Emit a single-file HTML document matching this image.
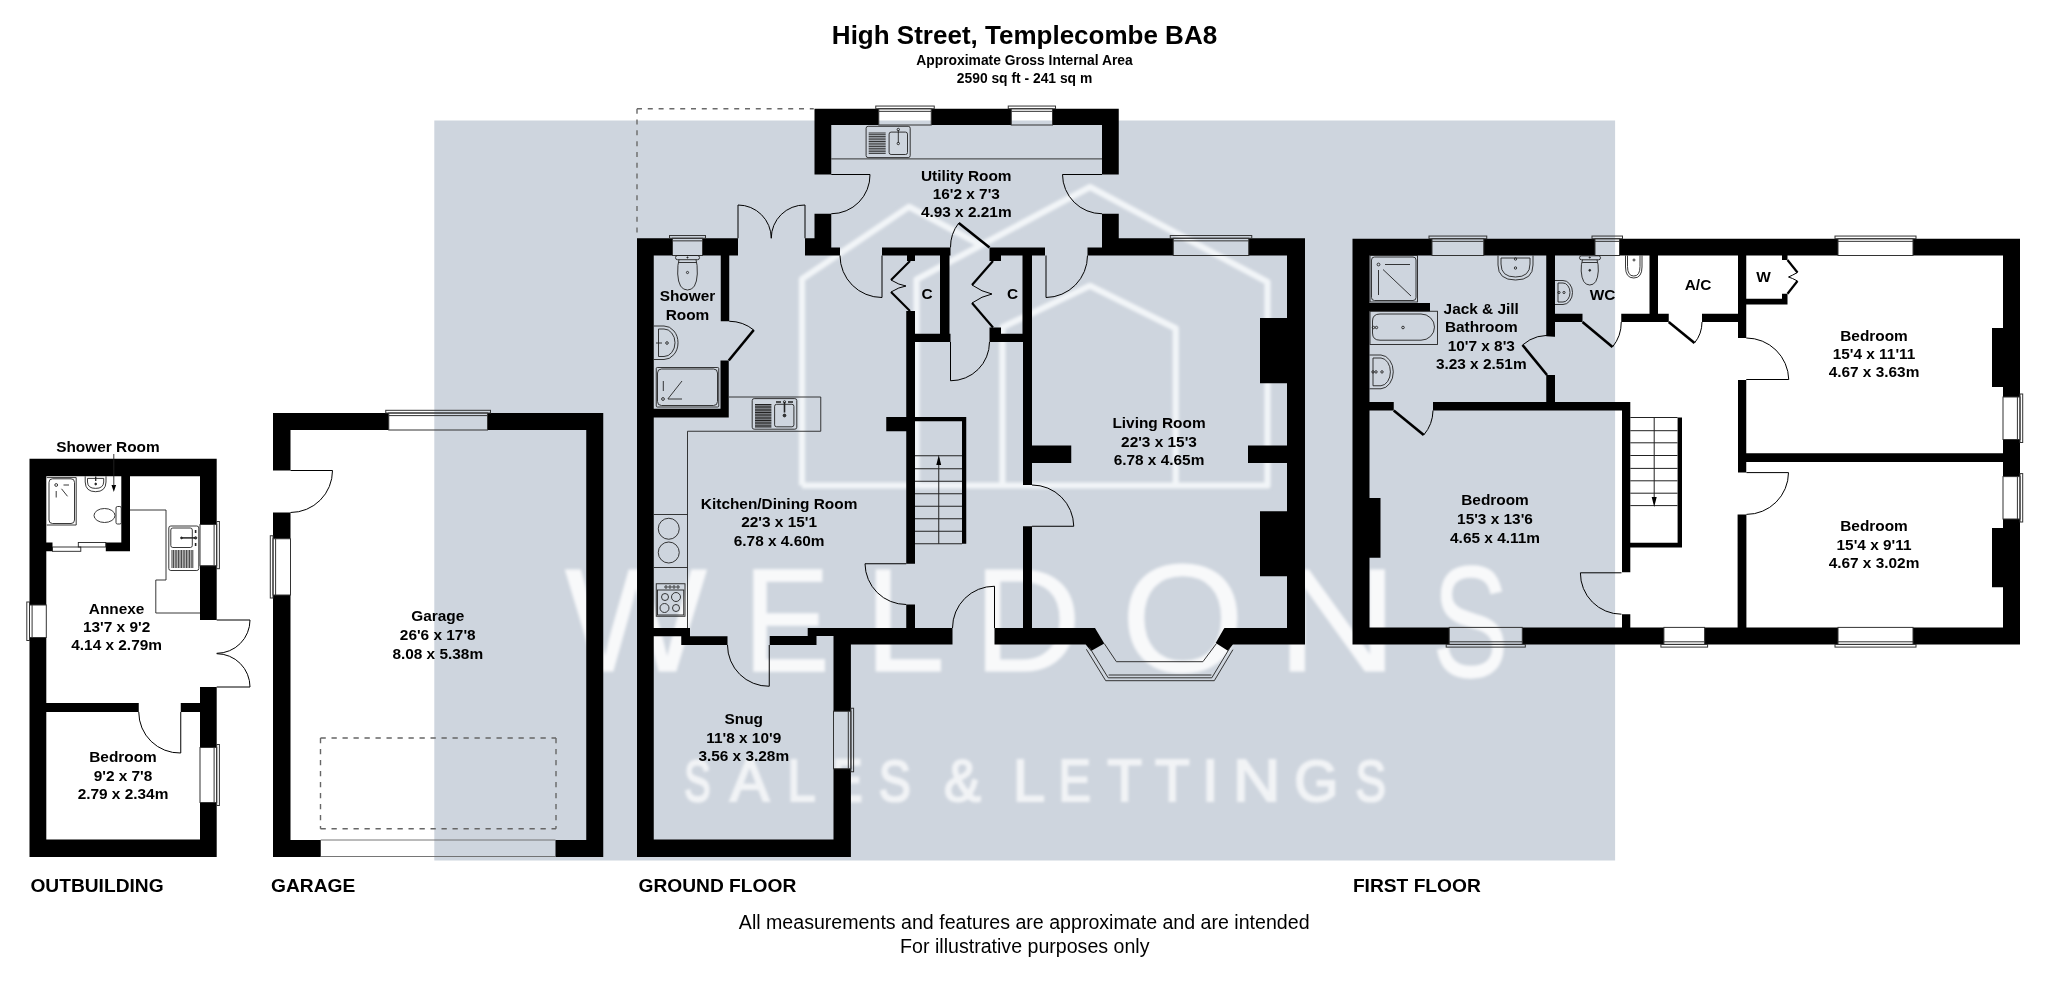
<!DOCTYPE html><html><head><meta charset="utf-8"><style>html,body{margin:0;padding:0;background:#fff;}svg{display:block;will-change:transform;}text{font-family:"Liberation Sans",sans-serif;fill:#000;}</style></head><body>
<svg width="2048" height="981" viewBox="0 0 2048 981">
<defs><filter id="bl" x="-5%" y="-5%" width="110%" height="110%"><feGaussianBlur stdDeviation="2.3"/></filter><filter id="wmb" x="-5%" y="-5%" width="110%" height="110%"><feGaussianBlur stdDeviation="1.5"/></filter><filter id="wms" x="-5%" y="-5%" width="110%" height="110%"><feGaussianBlur stdDeviation="1.5"/></filter><filter id="bl2" x="-5%" y="-5%" width="110%" height="110%"><feGaussianBlur stdDeviation="1.5"/></filter></defs>
<rect x="0" y="0" width="2048" height="981" fill="#fff"/>
<rect x="434.3" y="120.5" width="1180.8" height="740" fill="#ced5de"/>
<g filter="url(#wmb)" opacity="0.86"><text transform="translate(565.05,671.35) scale(0.15016,0.14738)" font-size="1000" style="fill:#ffffff;stroke:#ffffff;stroke-width:8.1;stroke-linejoin:miter">W</text><text transform="translate(743.15,671.05) scale(0.12989,0.14738)" font-size="1000" style="fill:#ffffff;stroke:#ffffff;stroke-width:8.7;stroke-linejoin:miter">E</text><text transform="translate(864.42,671.05) scale(0.14490,0.14738)" font-size="1000" style="fill:#ffffff;stroke:#ffffff;stroke-width:8.2;stroke-linejoin:miter">L</text><text transform="translate(973.56,670.65) scale(0.14932,0.14608)" font-size="1000" style="fill:#ffffff;stroke:#ffffff;stroke-width:8.1;stroke-linejoin:miter">D</text><text transform="translate(1121.17,671.91) scale(0.15813,0.15367)" font-size="1000" style="fill:#ffffff;stroke:#ffffff;stroke-width:7.7;stroke-linejoin:miter">O</text><text transform="translate(1276.53,671.05) scale(0.16798,0.14738)" font-size="1000" style="fill:#ffffff;stroke:#ffffff;stroke-width:7.6;stroke-linejoin:miter">N</text><text transform="translate(1432.57,675.67) scale(0.11374,0.15692)" font-size="1000" style="fill:#ffffff;stroke:#ffffff;stroke-width:8.9;stroke-linejoin:miter">S</text></g>
<g filter="url(#wms)" opacity="0.72"><text transform="translate(684.18,800.86) scale(0.03948,0.05791)" font-size="1000" style="fill:#ffffff;stroke:#ffffff;stroke-width:41.1;stroke-linejoin:miter">S</text><text transform="translate(729.88,800.94) scale(0.05882,0.05858)" font-size="1000" style="fill:#ffffff;stroke:#ffffff;stroke-width:34.1;stroke-linejoin:miter">A</text><text transform="translate(787.32,800.94) scale(0.05102,0.05858)" font-size="1000" style="fill:#ffffff;stroke:#ffffff;stroke-width:36.5;stroke-linejoin:miter">L</text><text transform="translate(832.28,800.94) scale(0.04539,0.05858)" font-size="1000" style="fill:#ffffff;stroke:#ffffff;stroke-width:38.5;stroke-linejoin:miter">E</text><text transform="translate(878.78,800.86) scale(0.04817,0.05791)" font-size="1000" style="fill:#ffffff;stroke:#ffffff;stroke-width:37.7;stroke-linejoin:miter">S</text><text transform="translate(944.07,800.86) scale(0.05519,0.05840)" font-size="1000" style="fill:#ffffff;stroke:#ffffff;stroke-width:35.2;stroke-linejoin:miter">&amp;</text><text transform="translate(1012.88,800.94) scale(0.05760,0.05858)" font-size="1000" style="fill:#ffffff;stroke:#ffffff;stroke-width:34.4;stroke-linejoin:miter">L</text><text transform="translate(1058.52,800.94) scale(0.04852,0.05858)" font-size="1000" style="fill:#ffffff;stroke:#ffffff;stroke-width:37.3;stroke-linejoin:miter">E</text><text transform="translate(1107.15,800.94) scale(0.05689,0.05858)" font-size="1000" style="fill:#ffffff;stroke:#ffffff;stroke-width:34.6;stroke-linejoin:miter">T</text><text transform="translate(1155.05,800.94) scale(0.05671,0.05858)" font-size="1000" style="fill:#ffffff;stroke:#ffffff;stroke-width:34.7;stroke-linejoin:miter">T</text><text transform="translate(1202.12,800.94) scale(0.05957,0.05858)" font-size="1000" style="fill:#ffffff;stroke:#ffffff;stroke-width:33.9;stroke-linejoin:miter">I</text><text transform="translate(1232.87,800.94) scale(0.06619,0.05858)" font-size="1000" style="fill:#ffffff;stroke:#ffffff;stroke-width:32.1;stroke-linejoin:miter">N</text><text transform="translate(1294.17,800.86) scale(0.05666,0.05791)" font-size="1000" style="fill:#ffffff;stroke:#ffffff;stroke-width:34.9;stroke-linejoin:miter">G</text><text transform="translate(1355.40,800.86) scale(0.04557,0.05791)" font-size="1000" style="fill:#ffffff;stroke:#ffffff;stroke-width:38.7;stroke-linejoin:miter">S</text></g>
<g filter="url(#bl2)" fill="none" stroke="#f2f5f8" stroke-width="6.2" stroke-linejoin="round" stroke-linecap="butt"><path d="M802,485.5V279L909,206.8L981.9,245.4"/><path d="M916.5,485.5V279.5L1090,187L1267.5,282V485.5H802"/><path d="M1002.4,485.5V327.3L1089.9,285.8L1175.7,328.4V485.5"/></g>
<path d="M29.50,458.70H216.70V476.30H29.50ZM29.50,458.70H46.30V605.00H29.50ZM29.50,637.50H46.30V857.00H29.50ZM29.50,839.50H216.70V857.00H29.50ZM200.00,458.70H216.70V524.50H200.00ZM200.00,565.70H216.70V620.00H200.00ZM200.00,687.00H216.70V747.50H200.00ZM200.00,802.50H216.70V857.00H200.00ZM121.30,476.30H130.00V551.30H121.30ZM105.80,542.50H130.00V551.30H105.80ZM46.30,542.50H52.50V551.30H46.30ZM46.30,703.00H138.75V712.00H46.30ZM180.75,703.00H200.00V712.00H180.75ZM273.00,413.00H388.75V430.00H273.00ZM487.50,413.00H603.25V430.00H487.50ZM273.00,413.00H290.50V470.50H273.00ZM273.00,512.50H290.50V538.75H273.00ZM273.00,595.00H290.50V857.00H273.00ZM586.25,413.00H603.25V857.00H586.25ZM273.00,840.00H320.75V857.00H273.00ZM555.50,840.00H603.25V857.00H555.50ZM637.00,238.25H653.75V857.00H637.00ZM637.00,238.25H672.50V255.50H637.00ZM702.50,238.25H738.00V255.50H702.50ZM720.75,255.50H729.25V321.25H720.75ZM720.50,360.50H728.75V417.50H720.50ZM653.75,408.75H728.75V417.50H653.75ZM805.00,238.25H831.25V247.50H805.00ZM805.00,247.50H840.00V255.50H805.00ZM814.50,108.75H831.25V174.50H814.50ZM814.50,213.75H831.25V247.50H814.50ZM814.50,108.75H878.75V125.00H814.50ZM931.25,108.75H1011.25V125.00H931.25ZM1052.50,108.75H1118.75V125.00H1052.50ZM1102.00,108.75H1118.75V174.50H1102.00ZM1102.00,213.75H1118.75V255.50H1102.00ZM882.00,247.50H950.50V255.50H882.00ZM989.50,247.50H1045.00V255.50H989.50ZM1087.50,247.50H1118.75V255.50H1087.50ZM1118.75,238.25H1173.25V255.50H1118.75ZM1248.75,238.25H1305.00V255.50H1248.75ZM1287.00,238.25H1305.00V644.50H1287.00ZM1260.00,318.00H1287.00V383.25H1260.00ZM1260.00,511.25H1287.00V576.25H1260.00ZM1248.00,445.50H1287.00V463.00H1248.00ZM1023.00,445.50H1071.25V463.00H1023.00ZM1023.00,255.50H1032.00V485.00H1023.00ZM1023.00,526.25H1032.00V644.50H1023.00ZM907.00,255.50H915.00V261.00H907.00ZM906.25,311.00H915.00V563.75H906.25ZM940.00,255.50H949.50V342.00H940.00ZM906.25,333.75H950.50V342.00H906.25ZM989.50,255.50H1001.00V261.00H989.50ZM989.50,327.50H1001.00V342.00H989.50ZM1022.50,255.50H1032.00V342.00H1022.50ZM989.50,333.75H1032.00V342.00H989.50ZM906.25,604.50H915.00V644.50H906.25ZM886.25,417.00H906.25V431.25H886.25ZM915.00,417.00H966.25V421.25H915.00ZM962.00,417.00H966.25V543.75H962.00ZM653.75,628.00H690.00V636.25H653.75ZM681.25,636.25H727.50V645.00H681.25ZM769.70,636.10H816.50V645.00H769.70ZM807.70,628.00H952.50V636.10H807.70ZM833.50,636.10H952.50V644.50H833.50ZM994.50,628.00H1095.00V644.50H994.50ZM1224.30,628.00H1305.00V644.50H1224.30ZM833.50,636.00H850.90V711.25H833.50ZM833.50,768.75H850.90V857.00H833.50ZM637.00,839.40H850.90V857.00H637.00ZM1352.50,238.75H1369.50V644.40H1352.50ZM1352.50,238.75H1432.00V255.50H1352.50ZM1483.75,238.75H1595.00V255.50H1483.75ZM1619.50,238.75H1838.00V255.50H1619.50ZM1913.00,238.75H2020.00V255.50H1913.00ZM2003.00,238.75H2020.00V397.00H2003.00ZM2003.00,439.50H2020.00V476.60H2003.00ZM2003.00,519.00H2020.00V644.40H2003.00ZM1992.00,328.00H2003.00V387.00H1992.00ZM1992.00,528.00H2003.00V587.30H1992.00ZM1352.50,627.40H1449.20V644.40H1352.50ZM1522.30,627.40H1663.90V644.40H1522.30ZM1704.60,627.40H1838.00V644.40H1704.60ZM1913.00,627.40H2020.00V644.40H1913.00ZM1369.20,498.00H1380.50V557.70H1369.20ZM1546.25,255.50H1555.00V336.25H1546.25ZM1546.25,375.00H1555.00V410.50H1546.25ZM1369.50,303.00H1430.00V311.25H1369.50ZM1369.50,402.00H1393.75V410.50H1369.50ZM1433.00,402.00H1630.30V410.50H1433.00ZM1555.00,313.75H1582.50V322.00H1555.00ZM1621.25,313.75H1668.75V322.00H1621.25ZM1649.50,255.50H1658.00V322.00H1649.50ZM1702.00,313.75H1746.25V322.00H1702.00ZM1738.00,255.50H1746.25V338.00H1738.00ZM1738.00,380.00H1746.25V472.60H1738.00ZM1737.60,514.40H1746.40V644.40H1737.60ZM1746.25,298.75H1787.50V304.50H1746.25ZM1782.00,255.50H1787.50V260.00H1782.00ZM1782.00,293.75H1787.50V304.50H1782.00ZM1746.25,453.30H2003.00V462.00H1746.25ZM1622.00,402.40H1630.30V572.20H1622.00ZM1622.00,614.30H1630.30V644.40H1622.00ZM1677.60,417.50H1682.00V547.40H1677.60ZM1630.30,542.80H1682.00V547.40H1630.30Z" fill="#000"/>
<path d="M1095,628L1104.3,643.6L1091,651L1085.7,644.6Z M1224.3,628L1232.9,644.6L1227.9,650.7L1215.7,642.9Z" fill="#000"/>
<g fill="none" stroke="#333" stroke-width="1">
<rect x="216.70" y="521.50" width="2.7" height="47.20"/><rect x="200.00" y="524.50" width="16.70" height="41.20"/><line x1="214.10" y1="524.50" x2="214.10" y2="565.70"/>
<rect x="216.70" y="744.50" width="2.7" height="61.00"/><rect x="200.00" y="747.50" width="16.70" height="55.00"/><line x1="214.10" y1="747.50" x2="214.10" y2="802.50"/>
<rect x="26.80" y="602.00" width="2.7" height="38.50"/><rect x="29.50" y="605.00" width="16.80" height="32.50"/><line x1="32.10" y1="605.00" x2="32.10" y2="637.50"/>
<rect x="385.75" y="410.30" width="104.75" height="2.7"/><rect x="388.75" y="413.00" width="98.75" height="17.00"/><line x1="388.75" y1="415.60" x2="487.50" y2="415.60"/>
<rect x="270.30" y="535.75" width="2.7" height="62.25"/><rect x="273.00" y="538.75" width="17.50" height="56.25"/><line x1="275.60" y1="538.75" x2="275.60" y2="595.00"/>
<rect x="669.50" y="235.55" width="36.00" height="2.7"/><rect x="672.50" y="238.25" width="30.00" height="17.25"/><line x1="672.50" y1="240.85" x2="702.50" y2="240.85"/>
<rect x="875.75" y="106.05" width="58.50" height="2.7"/><rect x="878.75" y="108.75" width="52.50" height="16.25"/><line x1="878.75" y1="111.35" x2="931.25" y2="111.35"/>
<rect x="1008.25" y="106.05" width="47.25" height="2.7"/><rect x="1011.25" y="108.75" width="41.25" height="16.25"/><line x1="1011.25" y1="111.35" x2="1052.50" y2="111.35"/>
<rect x="1170.25" y="235.55" width="81.50" height="2.7"/><rect x="1173.25" y="238.25" width="75.50" height="17.25"/><line x1="1173.25" y1="240.85" x2="1248.75" y2="240.85"/>
<rect x="850.90" y="708.25" width="2.7" height="63.50"/><rect x="833.50" y="711.25" width="17.40" height="57.50"/><line x1="848.30" y1="711.25" x2="848.30" y2="768.75"/>
<rect x="1429.00" y="236.05" width="57.75" height="2.7"/><rect x="1432.00" y="238.75" width="51.75" height="16.75"/><line x1="1432.00" y1="241.35" x2="1483.75" y2="241.35"/>
<rect x="1592.00" y="236.05" width="30.50" height="2.7"/><rect x="1595.00" y="238.75" width="24.50" height="16.75"/><line x1="1595.00" y1="241.35" x2="1619.50" y2="241.35"/>
<rect x="1835.00" y="236.05" width="81.00" height="2.7"/><rect x="1838.00" y="238.75" width="75.00" height="16.75"/><line x1="1838.00" y1="241.35" x2="1913.00" y2="241.35"/>
<rect x="1446.20" y="644.40" width="79.10" height="2.7"/><rect x="1449.20" y="627.40" width="73.10" height="17.00"/><line x1="1449.20" y1="641.80" x2="1522.30" y2="641.80"/>
<rect x="1660.90" y="644.40" width="46.70" height="2.7"/><rect x="1663.90" y="627.40" width="40.70" height="17.00"/><line x1="1663.90" y1="641.80" x2="1704.60" y2="641.80"/>
<rect x="1835.00" y="644.40" width="81.00" height="2.7"/><rect x="1838.00" y="627.40" width="75.00" height="17.00"/><line x1="1838.00" y1="641.80" x2="1913.00" y2="641.80"/>
<rect x="2020.00" y="394.00" width="2.7" height="48.50"/><rect x="2003.00" y="397.00" width="17.00" height="42.50"/><line x1="2017.40" y1="397.00" x2="2017.40" y2="439.50"/>
<rect x="2020.00" y="473.60" width="2.7" height="48.40"/><rect x="2003.00" y="476.60" width="17.00" height="42.40"/><line x1="2017.40" y1="476.60" x2="2017.40" y2="519.00"/>
<path d="M1086.4,649.3L1105.7,680.7H1214.3L1232.9,649.7"/><path d="M1089.5,647.5L1108.2,677.8H1211.8L1229.9,647.8"/><path d="M1104.3,643.6L1116.4,661.7H1202.9L1216.4,643.6"/><path d="M1108.6,675H1211.4"/>
</g>
<path d="M216.70,620.00L250.00,620.00A33.30,33.30 0 0 1 216.70,653.30M216.70,687.00L250.00,687.00A33.30,33.30 0 0 0 216.70,653.70M180.75,712.00L180.75,753.00A41.00,41.00 0 0 1 138.75,712.00M290.50,470.50L332.50,470.50A42.00,42.00 0 0 1 290.50,512.50M738.00,238.25L738.00,205.00A33.25,33.25 0 0 1 771.25,238.25M805.00,238.25L805.00,205.00A33.25,33.25 0 0 0 771.25,238.25M831.25,174.50L870.00,174.50A38.75,38.75 0 0 1 831.25,213.75M1102.00,174.50L1062.50,174.50A39.50,39.50 0 0 0 1102.00,213.75M882.00,255.50L882.00,297.50A42.00,42.00 0 0 1 840.00,255.50M1046.00,255.50L1046.00,297.50A42.00,42.00 0 0 0 1087.50,255.50M950.50,342.00L950.50,380.75A38.75,38.75 0 0 0 989.50,342.00M1032.00,526.25L1073.75,526.25A41.75,41.75 0 0 0 1032.00,485.00M906.25,563.75L865.00,563.75A41.25,41.25 0 0 0 906.25,604.50M994.50,628.00L994.50,586.25A41.75,41.75 0 0 0 952.50,628.00M769.25,645.00L769.25,686.25A41.25,41.25 0 0 1 727.50,645.00M1746.25,379.50L1788.75,379.50A42.50,42.50 0 0 0 1746.25,338.00M1746.40,472.60L1788.50,472.60A42.10,42.10 0 0 1 1746.40,514.40M1621.50,572.80L1580.40,572.80A41.10,41.10 0 0 0 1621.50,614.20" fill="none" stroke="#000" stroke-width="1"/>
<path d="M989.5,247.5L958.75,223" stroke="#000" stroke-width="2.6" fill="none"/>
<path d="M958.75,223A39.32,39.32 0 0 0 950.5,247.5" stroke="#000" stroke-width="1" fill="none"/>
<path d="M728.75,360.5L753.75,330" stroke="#000" stroke-width="2.6" fill="none"/>
<path d="M753.75,330A39.44,39.44 0 0 0 729.25,321.25" stroke="#000" stroke-width="1" fill="none"/>
<path d="M1547,375L1522.5,345" stroke="#000" stroke-width="2.6" fill="none"/>
<path d="M1522.5,345A38.73,38.73 0 0 1 1555,336.25" stroke="#000" stroke-width="1" fill="none"/>
<path d="M1393.75,410.5L1423.75,435" stroke="#000" stroke-width="2.6" fill="none"/>
<path d="M1423.75,435A38.73,38.73 0 0 0 1433,410.5" stroke="#000" stroke-width="1" fill="none"/>
<path d="M1582.5,322L1612.5,347" stroke="#000" stroke-width="2.6" fill="none"/>
<path d="M1612.5,347A39.05,39.05 0 0 0 1621.25,322" stroke="#000" stroke-width="1" fill="none"/>
<path d="M1668.75,322L1694.5,343" stroke="#000" stroke-width="2.6" fill="none"/>
<path d="M1694.5,343A33.23,33.23 0 0 0 1702,322" stroke="#000" stroke-width="1" fill="none"/>
<g fill="none" stroke="#000" stroke-width="2.2" stroke-linejoin="miter"><path d="M910,261L891,280"/><path d="M910,311L891,292"/><path d="M993,261L972,285"/><path d="M993,327.5L972,303"/><path d="M1787.5,260L1797.5,272.5"/><path d="M1787.5,293.75L1797.5,281"/></g>
<g fill="none" stroke="#000" stroke-width="1"><path d="M891,280Q899,285 906,286"/><path d="M891,292Q899,287 906,286"/><path d="M972,285Q982,292 992,294"/><path d="M972,303Q982,296 992,294"/><path d="M1797.5,272.5Q1792,275.5 1788.5,277"/><path d="M1797.5,281Q1792,278 1788.5,277"/></g>
<path d="M915,455.75H962M915,468.75H962M915,481.25H962M915,493.75H962M915,506.25H962M915,518.75H962M915,531.25H962M915,543.75H962M938.75,543.75V458M1630.3,417.5H1677.6M1630.3,430.7H1677.6M1630.3,442.8H1677.6M1630.3,455.5H1677.6M1630.3,468.4H1677.6M1630.3,480.8H1677.6M1630.3,493.2H1677.6M1630.3,505.6H1677.6M1654.2,417.5V503" stroke="#222" stroke-width="1" fill="none"/>
<path d="M938.75,455L936.3,465H941.2Z M1654.2,507L1651.7,497H1656.7Z M113.8,492L111.5,485H116.1Z" fill="#000"/>
<g fill="none" stroke="#222" stroke-width="0.9"><path d="M46.8,477.6H76.2V525H46.8"/><rect x="49" y="478.8" width="25.5" height="44.7" rx="3.5"/><circle cx="56.2" cy="485" r="1.4"/><path d="M63.5,485H69M56.2,491V497.5M61.5,488.8L67.5,496.3"/><path d="M85.2,476.3V482Q85.5,491.7 95.6,491.7Q105.8,491.7 106,482V476.3"/><path d="M87.5,478.4H103.7V482Q103.5,488.4 95.6,488.4Q87.7,488.4 87.5,482Z"/><path d="M95.7,476.5V481" stroke-width="1.3"/><circle cx="95.7" cy="484" r="0.9" fill="#222"/><path d="M113.8,459V486M113.8,454V459"/><ellipse cx="104.5" cy="515.5" rx="10.5" ry="7"/><rect x="116" y="506.5" width="5.3" height="17.5" rx="1.5"/><path d="M130,510H166V580H155.8V613H200"/><rect x="168.8" y="526" width="30" height="44.5" rx="2"/><rect x="170.8" y="528" width="21.5" height="19.5" rx="2"/><path d="M181.2,537.9H195.5" stroke-width="1.5"/><circle cx="181.5" cy="537.9" r="0.9" fill="#222"/><circle cx="195.6" cy="537.9" r="1.2" fill="#444"/><path d="M195.6,530V533M195.6,543V546" stroke-width="1.6"/><path d="M172.0,550V568M173.6,550V568M175.2,550V568M176.8,550V568M178.4,550V568M180.0,550V568M181.6,550V568M183.2,550V568M184.8,550V568M186.4,550V568M188.0,550V568M189.6,550V568M191.2,550V568M192.8,550V568"/><rect x="52.5" y="547" width="28.3" height="4.3"/><rect x="78.3" y="542.5" width="27.5" height="4.5"/><path d="M637,108.75H813.75M637,108.75V237.5" stroke="#6a6a6a" stroke-width="1.4" stroke-dasharray="5,5.8"/><path d="M320.5,738H556M320.5,738V828.75M556,738V828.75M320.5,828.75H556" stroke="#666" stroke-width="1.4" stroke-dasharray="5.3,5.7"/><path d="M320.75,840H555.5M320.75,856.5H555.5" stroke="#666"/><rect x="675.5" y="255.5" width="24" height="4.2" rx="2"/><path d="M679,259.7Q677.5,264 677.7,274Q678.5,290 687.5,290Q696.5,290 697.3,274Q697.5,264 696,259.7"/><path d="M678.5,262.5H696.5"/><circle cx="687.5" cy="272.5" r="1.1"/><circle cx="687.5" cy="257.5" r="0.6" fill="#222"/><path d="M653.75,326H664A14,16.75 0 0 1 664,359.5H653.75"/><path d="M658.5,329H664A11,13.75 0 0 1 664,356.5H658.5Z"/><circle cx="667" cy="343" r="1.3"/><path d="M656,343H662"/><rect x="656.25" y="367.5" width="62.5" height="39.5" rx="1"/><rect x="657.5" y="369" width="60" height="36.5" rx="4"/><path d="M663.3,381V391M667.8,399L682,381M668,399H682"/><circle cx="663" cy="399" r="1.4"/><path d="M728.75,397H820.75V431.25H687.5V628"/><rect x="752.2" y="398.6" width="44.6" height="30.6" rx="2"/><rect x="774.6" y="404.3" width="19.3" height="22.5" rx="2"/><path d="M784.5,402V412.5" stroke-width="1.6"/><circle cx="784.5" cy="415.5" r="1.4" fill="#333"/><circle cx="784.5" cy="401.8" r="1.1"/><path d="M776,402H781M788,402H793" stroke-width="1.4"/><path d="M755,404.5H771.4M755,406.1H771.4M755,407.7H771.4M755,409.3H771.4M755,410.9H771.4M755,412.5H771.4M755,414.1H771.4M755,415.7H771.4M755,417.3H771.4M755,418.9H771.4M755,420.5H771.4M755,422.1H771.4M755,423.7H771.4M755,425.3H771.4M755,426.9H771.4" stroke-width="1.1"/><path d="M653.75,514.5H687.5M653.75,567.5H687.5"/><circle cx="668.75" cy="528.75" r="10.5"/><circle cx="668.75" cy="552.5" r="10.5"/><rect x="656.25" y="583.75" width="28.75" height="32.5"/><rect x="657.5" y="590" width="26.25" height="25" /><circle cx="665" cy="597" r="3.5"/><circle cx="676" cy="597" r="4.5"/><circle cx="664.5" cy="608" r="4.5"/><circle cx="676" cy="608" r="3.5"/><circle cx="666" cy="587" r="1.2"/><circle cx="670" cy="587" r="1.2"/><circle cx="674" cy="587" r="1.2"/><circle cx="678" cy="587" r="1.2"/><path d="M831.25,158.9H1102"/><rect x="866.1" y="126.3" width="44.1" height="31.3" rx="2"/><rect x="889.1" y="132.1" width="18.4" height="22.4" rx="2"/><path d="M868.7,133.0H885.7M868.7,134.7H885.7M868.7,136.4H885.7M868.7,138.1H885.7M868.7,139.8H885.7M868.7,141.5H885.7M868.7,143.2H885.7M868.7,144.9H885.7M868.7,146.6H885.7M868.7,148.3H885.7M868.7,150.0H885.7M868.7,151.7H885.7M868.7,153.4H885.7"/><path d="M898.3,130V143"/><circle cx="898.3" cy="143.5" r="1.2"/><circle cx="898.3" cy="129.5" r="1.2"/><rect x="1370" y="255.5" width="47.5" height="46.5"/><rect x="1371.5" y="257" width="44.5" height="43.5" rx="3"/><circle cx="1378.5" cy="264.5" r="1.4"/><path d="M1385,264.5H1410M1378.5,270V295M1383,269.5L1411,296"/><rect x="1370" y="311.25" width="67.5" height="33.25"/><path d="M1380,314H1421A13.5,13.1 0 0 1 1421,340.2H1380Q1372.5,340.2 1372.5,333V321Q1372.5,314 1380,314Z"/><circle cx="1403" cy="327.5" r="1.3"/><circle cx="1373.5" cy="327.5" r="1.2"/><circle cx="1376.5" cy="327.5" r="1.2"/><path d="M1498,255.5V265Q1498,280 1515.5,280Q1533,280 1533,265V255.5"/><path d="M1501,258H1530V264Q1530,277 1515.5,277Q1501,277 1501,264Z"/><circle cx="1515.5" cy="259" r="1.2"/><circle cx="1515.5" cy="268" r="1.2"/><path d="M1369.5,355H1381A13,16.9 0 0 1 1381,388.75H1369.5"/><path d="M1373,358H1381A10,13.9 0 0 1 1381,385.75H1373Z"/><circle cx="1373" cy="371.9" r="1.2"/><circle cx="1376" cy="371.9" r="1.2"/><circle cx="1382" cy="371.9" r="1.2"/><path d="M1555,280.5H1563A9.5,12 0 0 1 1563,304.5H1555"/><path d="M1558,283H1563A7,9.5 0 0 1 1563,302H1558Z"/><circle cx="1559" cy="292.5" r="1.1"/><circle cx="1564" cy="292.5" r="1.1"/><rect x="1579.5" y="255.8" width="21" height="4" rx="2"/><path d="M1582.5,259.8Q1581,264 1581.2,271Q1582,285 1589.75,285Q1597.5,285 1598.3,271Q1598.5,264 1597,259.8"/><path d="M1582.2,262.5H1597.3"/><circle cx="1589.75" cy="270.3" r="0.9" fill="#222"/><circle cx="1589.75" cy="257.5" r="0.6" fill="#222"/><path d="M1625.5,255.5V267Q1625.5,278 1633.75,278Q1642,278 1642,267V255.5"/><path d="M1627.5,255.5V266.5Q1627.5,276 1633.75,276Q1640,276 1640,266.5V255.5"/><circle cx="1634" cy="260" r="1"/></g>
<text x="107.90" y="452.40" font-size="15.4" text-anchor="middle" font-weight="bold"><tspan x="107.90" y="452.40">Shower Room</tspan></text>
<text x="116.60" y="613.65" font-size="15.4" text-anchor="middle" font-weight="bold"><tspan x="116.60" y="613.65">Annexe</tspan><tspan x="116.60" y="631.75">13'7 x 9'2</tspan><tspan x="116.60" y="649.85">4.14 x 2.79m</tspan></text>
<text x="123.00" y="761.90" font-size="15.4" text-anchor="middle" font-weight="bold"><tspan x="123.00" y="761.90">Bedroom</tspan><tspan x="123.00" y="780.65">9'2 x 7'8</tspan><tspan x="123.00" y="799.40">2.79 x 2.34m</tspan></text>
<text x="437.75" y="621.40" font-size="15.4" text-anchor="middle" font-weight="bold"><tspan x="437.75" y="621.40">Garage</tspan><tspan x="437.75" y="640.00">26'6 x 17'8</tspan><tspan x="437.75" y="658.60">8.08 x 5.38m</tspan></text>
<text x="966.25" y="180.65" font-size="15.4" text-anchor="middle" font-weight="bold"><tspan x="966.25" y="180.65">Utility Room</tspan><tspan x="966.25" y="199.05">16'2 x 7'3</tspan><tspan x="966.25" y="217.45">4.93 x 2.21m</tspan></text>
<text x="687.50" y="301.40" font-size="15.4" text-anchor="middle" font-weight="bold"><tspan x="687.50" y="301.40">Shower</tspan><tspan x="687.50" y="319.90">Room</tspan></text>
<text x="779.10" y="508.90" font-size="15.4" text-anchor="middle" font-weight="bold"><tspan x="779.10" y="508.90">Kitchen/Dining Room</tspan><tspan x="779.10" y="527.40">22'3 x 15'1</tspan><tspan x="779.10" y="545.90">6.78 x 4.60m</tspan></text>
<text x="1159.00" y="428.15" font-size="15.4" text-anchor="middle" font-weight="bold"><tspan x="1159.00" y="428.15">Living Room</tspan><tspan x="1159.00" y="446.55">22'3 x 15'3</tspan><tspan x="1159.00" y="464.95">6.78 x 4.65m</tspan></text>
<text x="743.75" y="724.40" font-size="15.4" text-anchor="middle" font-weight="bold"><tspan x="743.75" y="724.40">Snug</tspan><tspan x="743.75" y="742.50">11'8 x 10'9</tspan><tspan x="743.75" y="760.60">3.56 x 3.28m</tspan></text>
<text x="927.00" y="299.40" font-size="15.4" text-anchor="middle" font-weight="bold"><tspan x="927.00" y="299.40">C</tspan></text>
<text x="1012.50" y="299.40" font-size="15.4" text-anchor="middle" font-weight="bold"><tspan x="1012.50" y="299.40">C</tspan></text>
<text x="1481.25" y="313.90" font-size="15.4" text-anchor="middle" font-weight="bold"><tspan x="1481.25" y="313.90">Jack &amp; Jill</tspan><tspan x="1481.25" y="332.40">Bathroom</tspan><tspan x="1481.25" y="350.90">10'7 x 8'3</tspan><tspan x="1481.25" y="369.40">3.23 x 2.51m</tspan></text>
<text x="1602.50" y="299.90" font-size="15.4" text-anchor="middle" font-weight="bold"><tspan x="1602.50" y="299.90">WC</tspan></text>
<text x="1698.00" y="289.90" font-size="15.4" text-anchor="middle" font-weight="bold"><tspan x="1698.00" y="289.90">A/C</tspan></text>
<text x="1763.50" y="282.40" font-size="15.4" text-anchor="middle" font-weight="bold"><tspan x="1763.50" y="282.40">W</tspan></text>
<text x="1874.00" y="340.65" font-size="15.4" text-anchor="middle" font-weight="bold"><tspan x="1874.00" y="340.65">Bedroom</tspan><tspan x="1874.00" y="359.05">15'4 x 11'11</tspan><tspan x="1874.00" y="377.45">4.67 x 3.63m</tspan></text>
<text x="1495.00" y="505.40" font-size="15.4" text-anchor="middle" font-weight="bold"><tspan x="1495.00" y="505.40">Bedroom</tspan><tspan x="1495.00" y="523.95">15'3 x 13'6</tspan><tspan x="1495.00" y="542.50">4.65 x 4.11m</tspan></text>
<text x="1874.00" y="530.90" font-size="15.4" text-anchor="middle" font-weight="bold"><tspan x="1874.00" y="530.90">Bedroom</tspan><tspan x="1874.00" y="549.65">15'4 x 9'11</tspan><tspan x="1874.00" y="568.40">4.67 x 3.02m</tspan></text>
<text x="1024.5" y="44.4" font-size="26" text-anchor="middle" font-weight="bold">High Street, Templecombe BA8</text>
<text x="1024.5" y="65" font-size="13.85" text-anchor="middle" font-weight="bold">Approximate Gross Internal Area</text>
<text x="1024.5" y="83" font-size="13.85" text-anchor="middle" font-weight="bold">2590 sq ft - 241 sq m</text>
<text x="30.4" y="891.6" font-size="19.2" font-weight="bold">OUTBUILDING</text>
<text x="271" y="891.6" font-size="19.2" font-weight="bold">GARAGE</text>
<text x="638.5" y="891.6" font-size="19.2" font-weight="bold">GROUND FLOOR</text>
<text x="1352.9" y="891.6" font-size="19.2" font-weight="bold">FIRST FLOOR</text>
<text x="1024.2" y="929.4" font-size="19.6" text-anchor="middle">All measurements and features are approximate and are intended</text>
<text x="1024.8" y="953.1" font-size="19.6" text-anchor="middle">For illustrative purposes only</text>
</svg></body></html>
